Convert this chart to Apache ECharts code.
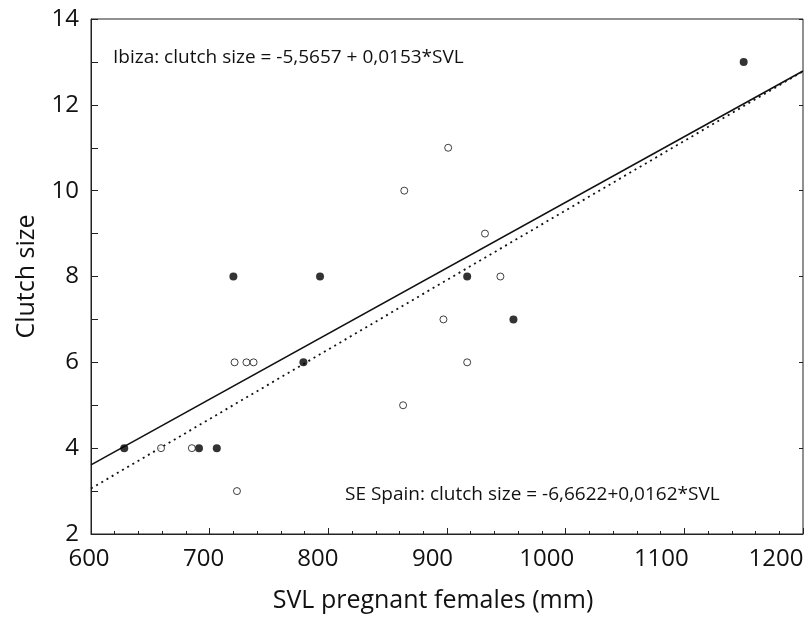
<!DOCTYPE html>
<html>
<head>
<meta charset="utf-8">
<style>
  html, body { margin: 0; padding: 0; background: #fff; }
  #chart { width: 806px; height: 619px; }
</style>
<script src="https://cdn.jsdelivr.net/npm/echarts@6/dist/echarts.min.js"></script>
</head>
<body>
<div id="chart"></div>
<script>
// Ibiza females (filled circles)
const ibizaSvl = [628, 691, 706, 720, 779, 793, 917, 956, 1150];
const ibizaClutch = [4, 4, 4, 8, 6, 8, 8, 7, 13];
// SE Spain females (open circles)
const spainSvl = [659, 685, 721, 731, 737, 723, 863, 864, 901, 897, 917, 932, 945];
const spainClutch = [4, 4, 6, 6, 6, 3, 5, 10, 11, 7, 6, 9, 8];
// regression lines, end values read at the axis limits
const fitSvl = [600, 1200];
const ibizaFit = [3.61, 12.79];
const spainFit = [3.06, 12.78];
const xTicks = [600, 700, 800, 900, 1000, 1100, 1200];
const yTicks = [2, 4, 6, 8, 10, 12, 14];

const ibizaLabel = "Ibiza: clutch size = -5,5657 + 0,0153*SVL";
const spainLabel = "SE Spain: clutch size = -6,6622+0,0162*SVL";

const FONT = "'Open Sans', 'Noto Sans', sans-serif";
const INK = "#111";

const pairs = (xs, ys) => xs.map((x, i) => [x, ys[i]]);

// the printed x labels drift left of their ticks a bit more each step
const xRich = {};
xTicks.forEach((v, i) => {
  xRich["t" + i] = {
    fontSize: 24,
    fontFamily: FONT,
    color: INK,
    padding: [0, Math.round((2 + i * 4.2) * 2), 0, 0],
  };
});

const chart = echarts.init(document.getElementById("chart"), null, { renderer: "canvas" });

chart.setOption({
  animation: false,
  backgroundColor: "#fff",
  grid: {
    left: 91,
    right: 3,
    top: 19,
    bottom: 85,
    show: true,
    borderColor: "#222",
    borderWidth: 1,
    outerBoundsMode: "none",
  },
  xAxis: [
    {
      type: "value",
      min: 600,
      max: 1200,
      interval: 100,
      position: "bottom",
      name: "SVL pregnant females (mm)",
      nameLocation: "middle",
      nameGap: 54,
      nameTextStyle: {
        fontSize: 25,
        fontFamily: FONT,
        color: INK,
        padding: [0, 28, 0, 0],
      },
      axisLine: { show: true, lineStyle: { color: "#222", width: 1 } },
      axisTick: { show: true, inside: true, length: 6, lineStyle: { color: "#222" } },
      minorTick: { show: true, splitNumber: 5, length: 3, lineStyle: { color: "#222" } },
      splitLine: { show: false },
      axisLabel: {
        margin: 13,
        fontSize: 24,
        fontFamily: FONT,
        color: INK,
        formatter: (v) => "{t" + xTicks.indexOf(v) + "|" + v + "}",
        rich: xRich,
      },
    },
  ],
  yAxis: [
    {
      type: "value",
      min: 2,
      max: 14,
      interval: 1,
      position: "left",
      name: "Clutch size",
      nameLocation: "middle",
      nameGap: 52,
      nameTextStyle: { fontSize: 25, fontFamily: FONT, color: INK },
      axisLine: { show: true, lineStyle: { color: "#222", width: 1 } },
      axisTick: { show: true, inside: true, length: 7, lineStyle: { color: "#222" } },
      splitLine: { show: false },
      axisLabel: {
        margin: 12,
        fontSize: 24,
        fontFamily: FONT,
        color: INK,
        formatter: (v) => (yTicks.includes(v) ? String(v) : ""),
      },
    },
    {
      type: "value",
      min: 2,
      max: 14,
      interval: 2,
      position: "right",
      axisLine: { show: false },
      axisTick: { show: true, inside: true, length: 4, lineStyle: { color: "#222" } },
      axisLabel: { show: false },
      splitLine: { show: false },
    },
  ],
  graphic: [
    {
      type: "text",
      x: 113,
      y: 58,
      style: {
        text: ibizaLabel,
        font: "19px " + FONT,
        fill: INK,
        verticalAlign: "middle",
      },
    },
    {
      type: "text",
      x: 345,
      y: 495,
      style: {
        text: spainLabel,
        font: "19px " + FONT,
        fill: INK,
        verticalAlign: "middle",
      },
    },
  ],
  series: [
    {
      name: "Ibiza fit",
      type: "line",
      data: pairs(fitSvl, ibizaFit),
      symbol: "none",
      silent: true,
      lineStyle: { color: "#111", width: 1.6, type: "solid" },
      z: 2,
    },
    {
      name: "SE Spain fit",
      type: "line",
      data: pairs(fitSvl, spainFit),
      symbol: "none",
      silent: true,
      lineStyle: { color: "#111", width: 1.8, type: [2, 4] },
      z: 2,
    },
    {
      name: "Ibiza",
      type: "scatter",
      data: pairs(ibizaSvl, ibizaClutch),
      symbol: "circle",
      symbolSize: 8,
      itemStyle: { color: "#000" },
      z: 3,
    },
    {
      name: "SE Spain",
      type: "scatter",
      data: pairs(spainSvl, spainClutch),
      symbol: "circle",
      symbolSize: 7,
      itemStyle: { color: "#fff", borderColor: "#111", borderWidth: 1 },
      z: 4,
    },
  ],
});
</script>
</body>
</html>
